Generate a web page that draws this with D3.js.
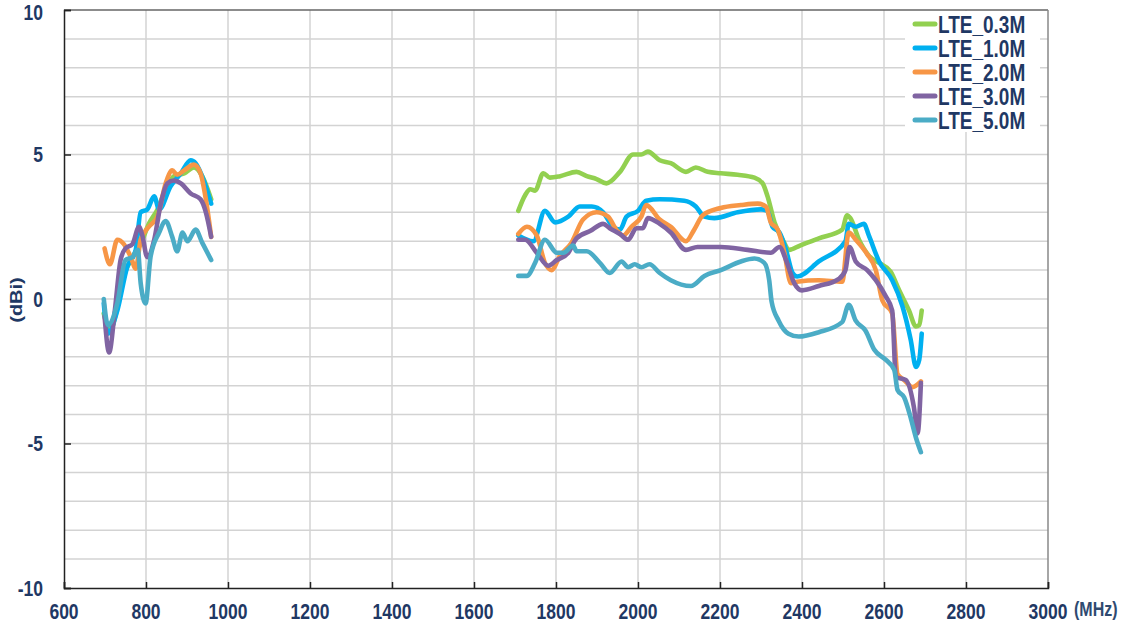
<!DOCTYPE html>
<html>
<head>
<meta charset="utf-8">
<script src="https://cdn.jsdelivr.net/npm/d3@7"></script>
<style>
    body { margin: 0; background: #fff; }
    svg { display: block; font-family: Arial, 'Liberation Sans', sans-serif; }
</style>
</head>
<body>
<svg id="chart" width="1121" height="625"></svg>
<script>
// [MHz, dBi]; null splits the low band from the high band
var lte03 = [[697,-0.5],[712,-1.1],[727,-0.5],[746,0.8],[767,1.45],[787,1.9],[807,2.6],[828,3.1],[848,3.8],[868,4.25],[893,4.35],[917,4.55],[937,4.25],[959,3.45],
    null,
    [1708,3.05],[1725,3.6],[1737,3.8],[1749,3.75],[1769,4.35],[1785,4.2],[1810,4.25],[1850,4.4],[1875,4.25],[1899,4.15],[1923,4.0],[1956,4.4],[1988,5.0],[2008,5.0],[2024,5.1],[2053,4.8],
    [2080,4.7],[2117,4.4],[2141,4.55],[2170,4.4],[2202,4.35],[2243,4.3],[2284,4.2],[2304,4.0],[2316,3.55],[2333,2.65],[2353,2.05],[2369,1.7],[2395,1.85],[2441,2.1],[2498,2.4],
    [2510,2.9],[2518,2.8],[2539,2.05],[2563,1.5],[2588,1.25],[2616,0.95],[2637,0.3],[2661,-0.4],[2678,-0.95],[2686,-0.9],[2692,-0.4]];

var lte10 = [[697,-0.15],[707,-1.2],[730,-0.4],[754,1.1],[775,1.7],[787,3.0],[803,3.1],[820,3.55],[832,3.1],[860,3.9],[885,4.35],[909,4.8],[921,4.7],[941,4.1],[959,3.3],
    null,
    [1708,2.2],[1745,2.0],[1773,3.05],[1798,2.65],[1830,2.85],[1858,3.2],[1887,3.2],[1915,3.0],[1939,2.5],[1956,2.4],[1972,2.85],[2000,3.05],[2020,3.4],[2053,3.45],
    [2113,3.4],[2141,3.2],[2162,2.85],[2186,2.8],[2243,3.0],[2300,3.1],[2316,3.05],[2328,2.5],[2345,2.3],[2361,1.7],[2377,0.9],[2388,0.78],[2441,1.3],[2506,2.0],
    [2514,2.6],[2531,2.5],[2551,2.6],[2563,2.2],[2588,1.3],[2620,0.65],[2645,-0.25],[2665,-1.4],[2678,-2.35],[2686,-2.1],[2692,-1.2]];

var lte20 = [[699,1.75],[712,1.2],[730,2.05],[746,1.9],[763,1.45],[775,1.05],[787,2.05],[807,2.5],[828,2.85],[848,4.0],[864,4.45],[876,4.3],[893,4.45],[917,4.65],[933,4.35],[946,3.45],[959,2.15],
    null,
    [1708,2.25],[1729,2.5],[1753,2.2],[1773,1.25],[1789,1.0],[1810,1.5],[1838,1.95],[1866,2.75],[1899,3.0],[1927,2.85],[1947,2.4],[1964,2.2],[1984,2.5],[2008,2.85],[2020,3.25],[2053,2.75],
    [2080,2.5],[2117,2.0],[2137,2.4],[2158,2.9],[2202,3.15],[2251,3.25],[2292,3.3],[2312,3.2],[2324,2.65],[2341,2.4],[2357,1.6],[2373,0.55],[2388,0.6],[2441,0.65],[2498,0.6],
    [2514,2.3],[2531,2.05],[2559,1.55],[2580,1.0],[2596,-0.05],[2620,-0.5],[2633,-2.6],[2649,-2.8],[2669,-3.05],[2690,-2.85]];

var lte30 = [[699,-0.6],[710,-1.85],[724,-0.4],[738,1.35],[750,1.75],[767,1.9],[783,2.5],[791,2.2],[803,1.45],[820,2.05],[836,3.3],[852,4.0],[868,4.1],[885,4.0],[909,3.65],[933,3.45],[946,3.0],[959,2.15],
    null,
    [1708,2.05],[1725,2.05],[1753,1.6],[1781,1.15],[1802,1.35],[1830,1.6],[1850,2.1],[1883,2.35],[1915,2.6],[1931,2.45],[1956,2.25],[1976,2.05],[1996,2.45],[2012,2.45],[2024,2.8],[2053,2.6],
    [2080,2.3],[2117,1.7],[2145,1.8],[2202,1.8],[2267,1.7],[2324,1.6],[2345,1.8],[2361,1.35],[2381,0.55],[2400,0.3],[2441,0.45],[2490,0.7],[2506,1.0],
    [2516,1.8],[2531,1.3],[2559,1.0],[2580,0.65],[2604,0.1],[2620,-0.4],[2629,-2.7],[2653,-2.8],[2673,-3.75],[2682,-4.65],[2690,-2.9]];

var lte50 = [[697,0.0],[707,-0.9],[730,-0.15],[750,1.35],[767,1.45],[780,1.7],[787,0.55],[799,-0.15],[811,1.45],[832,2.3],[848,2.7],[864,2.15],[876,1.65],[889,2.3],[901,2.0],[921,2.4],[937,1.95],[959,1.35],
    null,
    [1708,0.8],[1729,0.8],[1749,1.25],[1773,2.05],[1802,1.6],[1818,1.6],[1842,1.85],[1850,1.65],[1875,1.65],[1907,1.25],[1931,0.9],[1960,1.3],[1976,1.1],[1992,1.2],[2008,1.1],[2028,1.2],[2053,0.9],
    [2080,0.65],[2129,0.45],[2162,0.8],[2202,1.0],[2251,1.3],[2284,1.4],[2308,1.25],[2320,0.65],[2326,-0.1],[2343,-0.75],[2367,-1.2],[2392,-1.3],[2441,-1.15],[2498,-0.8],
    [2514,-0.2],[2531,-0.75],[2555,-1.1],[2576,-1.75],[2604,-2.1],[2625,-2.45],[2633,-3.15],[2649,-3.4],[2665,-4.1],[2678,-4.8],[2690,-5.3]];

var seriesNames = ['LTE_0.3M', 'LTE_1.0M', 'LTE_2.0M', 'LTE_3.0M', 'LTE_5.0M'];
var seriesData = [lte03, lte10, lte20, lte30, lte50];
var seriesColors = ['#92d050', '#00b0f0', '#f79646', '#8064a2', '#4bacc6'];

var xTicks = [600, 800, 1000, 1200, 1400, 1600, 1800, 2000, 2200, 2400, 2600, 2800, 3000];
var yTicks = [-10, -5, 0, 5, 10];
var yGrid = d3.range(-10, 11, 1);

var svg, x_scale, y_scale;
var textColor = '#1f3864';

document.addEventListener('DOMContentLoaded', function () {
    svg = d3.select('#chart');

    x_scale = d3.scaleLinear().domain([600, 3000]).range([64, 1048]);
    y_scale = d3.scaleLinear().domain([-10, 10]).range([588, 10]);

    drawChart();
});

function drawChart() {
    var left = x_scale.range()[0], right = x_scale.range()[1];
    var top = y_scale.range()[1], bottom = y_scale.range()[0];

    // grid
    svg.append('g').selectAll('line')
        .data(yGrid.filter(v => v > -10 && v < 10))
        .enter().append('line')
        .attr('x1', left).attr('x2', right)
        .attr('y1', d => y_scale(d)).attr('y2', d => y_scale(d))
        .style('stroke', '#d3d3d3').style('stroke-width', 1.5);

    svg.append('g').selectAll('line')
        .data(xTicks.filter(v => v > 600 && v < 3000))
        .enter().append('line')
        .attr('x1', d => x_scale(d)).attr('x2', d => x_scale(d))
        .attr('y1', top).attr('y2', bottom)
        .style('stroke', '#d3d3d3').style('stroke-width', 1.5);

    // frame
    svg.append('line').attr('x1', left).attr('x2', right).attr('y1', top).attr('y2', top)
        .style('stroke', '#666').style('stroke-width', 1.5);
    svg.append('line').attr('x1', right).attr('x2', right).attr('y1', top).attr('y2', bottom)
        .style('stroke', '#888').style('stroke-width', 1.5);

    // axes with inward ticks
    var y_axis = d3.axisLeft(y_scale).tickValues(yTicks).tickSize(-7).tickFormat('');
    svg.append('g').attr('transform', 'translate(' + left + ',0)').call(y_axis)
        .call(g => g.selectAll('line, path').style('stroke', '#222').style('stroke-width', 1.5));

    var x_axis = d3.axisBottom(x_scale).tickValues(xTicks).tickSize(-6).tickFormat('');
    svg.append('g').attr('transform', 'translate(0,' + bottom + ')').call(x_axis)
        .call(g => g.selectAll('line, path').style('stroke', '#222').style('stroke-width', 1.5));

    // tick labels (the reference text is stretched vertically)
    svg.append('g').selectAll('text')
        .data(yTicks)
        .enter().append('text')
        .attr('transform', d => 'translate(43,' + Math.max(y_scale(d), 12.5) + ') scale(1,1.25)')
        .attr('dy', '0.36em')
        .style('text-anchor', 'end')
        .style('font-size', '17.5px').style('font-weight', 'bold')
        .style('fill', textColor)
        .text(d => d);

    svg.append('g').selectAll('text')
        .data(xTicks)
        .enter().append('text')
        .attr('transform', d => 'translate(' + x_scale(d) + ',611) scale(1,1.25)')
        .attr('dy', '0.36em')
        .style('text-anchor', 'middle')
        .style('font-size', '17.5px').style('font-weight', 'bold')
        .style('fill', textColor)
        .text(d => d);

    svg.append('text')
        .attr('transform', 'translate(1074,609) scale(1,1.25)')
        .attr('dy', '0.36em')
        .style('font-size', '16px').style('font-weight', 'bold')
        .style('fill', '#2f4a70')
        .text('(MHz)');

    svg.append('text')
        .attr('transform', 'translate(16,300) rotate(-90) scale(1.25,1)')
        .attr('dy', '0.36em')
        .style('text-anchor', 'middle')
        .style('font-size', '16px').style('font-weight', 'bold')
        .style('fill', textColor)
        .text('(dBi)');

    // series
    var line = d3.line()
        .defined(d => d !== null)
        .x(d => x_scale(d[0]))
        .y(d => y_scale(d[1]))
        .curve(d3.curveMonotoneX);

    svg.append('g').selectAll('path')
        .data(seriesData)
        .enter().append('path')
        .attr('d', d => line(d))
        .style('fill', 'none')
        .style('stroke', (d, i) => seriesColors[i])
        .style('stroke-width', 4.6)
        .style('stroke-linejoin', 'round')
        .style('stroke-linecap', 'round');

    // legend
    var legend = svg.append('g').attr('class', 'legend');
    legend.append('rect')
        .attr('x', 905).attr('y', 11).attr('width', 135).attr('height', 121)
        .style('fill', '#fff');

    var items = legend.selectAll('g.item')
        .data(seriesNames)
        .enter().append('g')
        .attr('class', 'item')
        .attr('transform', (d, i) => 'translate(0,' + (24 + i * 24) + ')');

    items.append('line')
        .attr('x1', 915).attr('x2', 935).attr('y1', 0).attr('y2', 0)
        .style('stroke', (d, i) => seriesColors[i])
        .style('stroke-width', 5)
        .style('stroke-linecap', 'round');

    items.append('text')
        .attr('transform', 'translate(938,0) scale(1,1.25)')
        .attr('dy', '0.36em')
        .style('font-size', '19px').style('font-weight', 'bold')
        .style('fill', textColor)
        .text(d => d);
}
</script>
</body>
</html>
